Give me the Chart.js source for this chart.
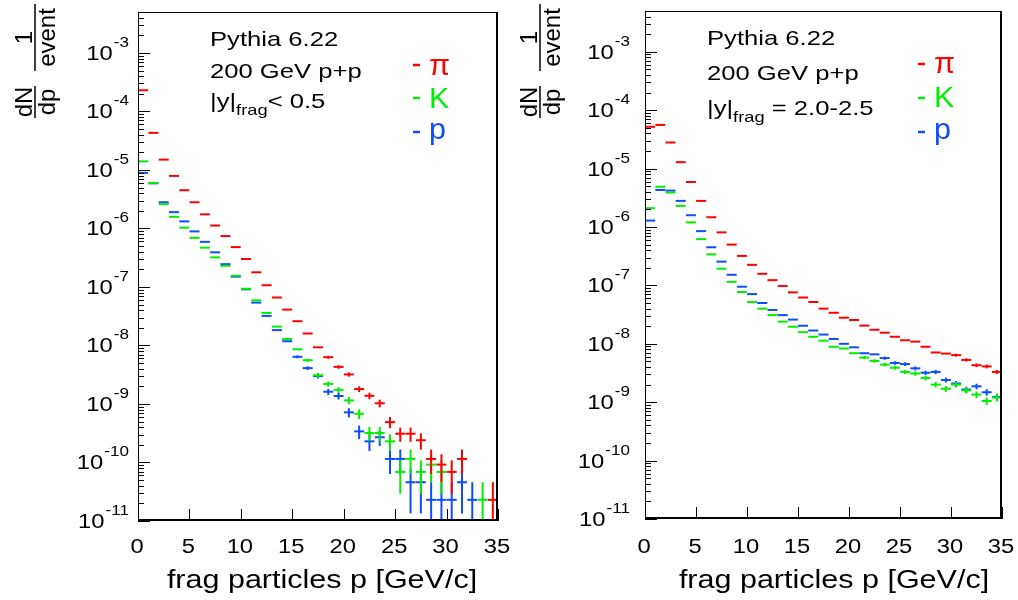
<!DOCTYPE html>
<html>
<head>
<meta charset="utf-8">
<script src="https://cdn.jsdelivr.net/npm/chart.js@4.4.1/dist/chart.umd.min.js"></script>
<style>
  html, body { margin: 0; padding: 0; background: #fff; }
  #wrap { position: relative; width: 1018px; height: 600px; overflow: hidden; }
  canvas { position: absolute; top: 0; }
  #left { left: 0; }
  #right { left: 509px; }
</style>
</head>
<body>
<div id="wrap">
  <canvas id="left" width="520" height="600" style="width:520px;height:600px"></canvas>
  <canvas id="right" width="509" height="600" style="width:509px;height:600px"></canvas>
</div>
<script>
// bin centres, 1 GeV/c bins from 0 to 35
const pCenters = [0.5, 1.5, 2.5, 3.5, 4.5, 5.5, 6.5, 7.5, 8.5, 9.5, 10.5, 11.5, 12.5, 13.5, 14.5, 15.5, 16.5,
  17.5, 18.5, 19.5, 20.5, 21.5, 22.5, 23.5, 24.5, 25.5, 26.5, 27.5, 28.5, 29.5, 30.5, 31.5, 32.5, 33.5, 34.5];

// |y|frag < 0.5  (0 = empty bin)
const piMid = [2.3e-4, 4.3e-5, 1.5e-5, 7.9e-6, 4.5e-6, 2.8e-6, 1.74e-6, 1.12e-6, 7.4e-7, 4.8e-7, 3.0e-7,
  1.78e-7, 1.07e-7, 6.6e-8, 4.1e-8, 2.6e-8, 1.6e-8, 9.3e-9, 6.3e-9, 4.3e-9, 3.2e-9, 1.8e-9, 1.38e-9, 1.03e-9,
  4.9e-10, 3.1e-10, 3.1e-10, 2.4e-10, 1.15e-10, 9.2e-11, 6.9e-11, 1.15e-10, 0, 0, 2.3e-11];
const kMid = [1.4e-5, 6.0e-6, 2.6e-6, 1.58e-6, 1.03e-6, 6.9e-7, 4.7e-7, 3.2e-7, 2.3e-7, 1.55e-7, 9.3e-8,
  5.9e-8, 3.6e-8, 2.1e-8, 1.29e-8, 8.6e-9, 5.6e-9, 3.1e-9, 2.2e-9, 1.74e-9, 1.15e-9, 6.8e-10, 3.2e-10, 3.2e-10,
  2.3e-10, 6.9e-11, 1.15e-10, 6.9e-11, 9.2e-11, 6.9e-11, 0, 0, 0, 2.3e-11, 0];
const prMid = [8.9e-6, 5.9e-6, 2.8e-6, 1.9e-6, 1.32e-6, 8.9e-7, 5.9e-7, 3.9e-7, 2.45e-7, 1.5e-7, 9.1e-8,
  5.4e-8, 3.2e-8, 1.83e-8, 1.18e-8, 6.4e-9, 4.1e-9, 3.0e-9, 1.62e-9, 1.37e-9, 7.2e-10, 3.4e-10, 2.3e-10, 2.7e-10,
  1.15e-10, 1.15e-10, 4.6e-11, 4.6e-11, 2.3e-11, 2.3e-11, 2.3e-11, 4.6e-11, 2.3e-11, 0, 0];

// |y|frag = 2.0-2.5
const piFwd = [5.2e-5, 5.6e-5, 2.8e-5, 1.29e-5, 5.9e-6, 2.8e-6, 1.47e-6, 8.1e-7, 5.0e-7, 3.2e-7, 2.25e-7,
  1.58e-7, 1.23e-7, 9.8e-8, 7.6e-8, 6.2e-8, 5.2e-8, 4.0e-8, 3.4e-8, 2.8e-8, 2.56e-8, 2.05e-8, 1.74e-8, 1.55e-8,
  1.32e-8, 1.15e-8, 1.09e-8, 8.9e-9, 7.1e-9, 6.8e-9, 6.4e-9, 5.3e-9, 4.3e-9, 4.1e-9, 3.3e-9];
const kFwd = [2.1e-6, 4.9e-6, 3.9e-6, 2.3e-6, 1.2e-6, 6.2e-7, 3.4e-7, 1.93e-7, 1.15e-7, 7.7e-8, 5.2e-8,
  4.0e-8, 3.1e-8, 2.4e-8, 1.96e-8, 1.58e-8, 1.32e-8, 1.13e-8, 8.9e-9, 8.3e-9, 6.9e-9, 5.8e-9, 5.1e-9, 4.4e-9,
  3.9e-9, 3.3e-9, 3.1e-9, 2.6e-9, 2.0e-9, 1.7e-9, 2.0e-9, 1.6e-9, 1.35e-9, 1.05e-9, 1.2e-9];
const prFwd = [1.29e-6, 4.3e-6, 4.2e-6, 2.8e-6, 1.59e-6, 8.5e-7, 4.5e-7, 2.55e-7, 1.52e-7, 9.5e-8, 7.1e-8,
  5.0e-8, 3.8e-8, 3.1e-8, 2.6e-8, 2.04e-8, 1.69e-8, 1.44e-8, 1.21e-8, 1.0e-8, 8.7e-9, 6.9e-9, 6.6e-9, 5.7e-9,
  4.7e-9, 4.5e-9, 3.8e-9, 3.2e-9, 3.3e-9, 2.4e-9, 2.09e-9, 1.65e-9, 1.87e-9, 1.48e-9, 1.23e-9];

// weight of one entry (statistical error bars = sqrt(N) * weight)
const countWeight = 2.3e-11;

const xTicks = [0, 5, 10, 15, 20, 25, 30, 35];
const yTickExps = [-3, -4, -5, -6, -7, -8, -9, -10, -11];

const RED = "#ff0000", GREEN = "#00ef00", BLUE = "#0d4cff";
const FONT = '"Liberation Sans", Arial, Helvetica, sans-serif';
const SX = 1.22; // the original text is drawn rather wide

function txt(ctx, s, x, y, size, align, color, sx) {
  ctx.save();
  ctx.translate(x, y);
  ctx.scale(sx || SX, 1);
  ctx.font = size + "px " + FONT;
  ctx.textAlign = align;
  ctx.textBaseline = "alphabetic";
  ctx.fillStyle = color || "#000";
  ctx.fillText(s, 0, 0);
  ctx.restore();
}

function textW(ctx, s, size, sx) {
  ctx.save();
  ctx.font = size + "px " + FONT;
  const w = ctx.measureText(s).width * (sx || SX);
  ctx.restore();
  return w;
}

function seg(ctx, x1, y1, x2, y2) {
  ctx.beginPath();
  ctx.moveTo(x1, y1);
  ctx.lineTo(x2, y2);
  ctx.stroke();
}

const errorBars = {
  id: "errorBars",
  afterDatasetDraw(chart, args) {
    const ds = chart.data.datasets[args.index];
    const { ctx, chartArea: a, scales: { y } } = chart;
    ctx.save();
    ctx.beginPath();
    ctx.rect(a.left, a.top, a.width, a.height);
    ctx.clip();
    ctx.strokeStyle = ds.borderColor;
    ctx.lineWidth = 2;
    args.meta.data.forEach((pt, i) => {
      const v = ds.data[i].y;
      if (!v) return;
      const e = Math.sqrt(v * countWeight);
      const top = y.getPixelForValue(v + e);
      const bot = v - e > v * 1e-6 ? y.getPixelForValue(v - e) : a.bottom + 5;
      if (bot - top < 3) return;
      seg(ctx, pt.x, top, pt.x, bot);
    });
    ctx.restore();
  }
};

const rootFrame = {
  id: "rootFrame",
  afterDraw(chart, args, o) {
    const { ctx, chartArea: a, scales: { x, y } } = chart;
    ctx.save();
    ctx.strokeStyle = "#000";
    ctx.lineWidth = 1;

    // y ticks (inside, left side)
    for (let e = -11; e <= -3; e++) {
      for (let k = 1; k <= 9; k++) {
        const v = k * Math.pow(10, e);
        if (v > y.max * 1.001) break;
        const py = Math.round(y.getPixelForValue(v)) + 0.5;
        seg(ctx, a.left, py, a.left + (k === 1 ? 12 : 6), py);
      }
    }
    // x ticks
    xTicks.forEach(t => {
      const px = Math.round(x.getPixelForValue(t)) + 0.5;
      seg(ctx, px, a.bottom, px, a.bottom - 12);
    });

    // frame
    seg(ctx, a.left + 0.5, a.top + 0.5, a.right, a.top + 0.5);
    seg(ctx, a.left + 0.5, a.top, a.left + 0.5, a.bottom);
    ctx.lineWidth = 2;
    seg(ctx, a.right - 1, a.top, a.right - 1, a.bottom);
    seg(ctx, a.left, a.bottom - 1, a.right, a.bottom - 1);

    // y tick labels 10^-n
    yTickExps.forEach(n => {
      const py = y.getPixelForValue(Math.pow(10, n));
      const ex = String(n);
      const we = textW(ctx, ex, 14);
      const wm = textW(ctx, "10", 19.5);
      txt(ctx, ex, o.labelRight - we, py - 6, 14, "left");
      txt(ctx, "10", o.labelRight - we - 1 - wm, py + 7, 19.5, "left");
    });
    // x tick labels
    xTicks.forEach(t => {
      txt(ctx, String(t), x.getPixelForValue(t) - 1, 553, 19.5, "center");
    });
    // x title
    txt(ctx, "frag particles p [GeV/c]", o.titleX, 588, 25, "center");

    // y title: dN/dp 1/event, rotated
    ctx.save();
    ctx.translate(o.yTitleX, 0);
    ctx.rotate(-Math.PI / 2);
    ctx.lineWidth = 1.5;
    seg(ctx, -118, 0, -86, 0);
    seg(ctx, -71, 0, -4, 0);
    txt(ctx, "dN", -102, -3, 24, "center", "#000", 1.0);
    txt(ctx, "dp", -102, 20, 24, "center", "#000", 1.0);
    txt(ctx, "1", -37.5, -3, 24, "center", "#000", 1.0);
    txt(ctx, "event", -37.5, 20, 24, "center", "#000", 1.0);
    ctx.restore();

    // annotation
    txt(ctx, "Pythia 6.22", o.textX, o.lines[0], 21, "left");
    txt(ctx, "200 GeV p+p", o.textX, o.lines[1], 21, "left");
    let tx = o.textX;
    txt(ctx, "|y|", tx, o.lines[2], 21, "left");
    tx += textW(ctx, "|y|", 21);
    txt(ctx, "frag", tx, o.lines[2] + 7, 15, "left");
    tx += textW(ctx, "frag", 15);
    txt(ctx, o.rapText, tx, o.lines[2], 21, "left");

    // legend
    const leg = [["\u03c0", RED, o.legY[0], o.legBase[0]], ["K", GREEN, o.legY[1], o.legBase[1]], ["p", BLUE, o.legY[2], o.legBase[2]]];
    leg.forEach(([s, c, ly, lb]) => {
      ctx.strokeStyle = c;
      ctx.lineWidth = 2.5;
      seg(ctx, o.legX, ly, o.legX + 7, ly);
      txt(ctx, s, o.legX + 16, lb, 29, "left", c, 1.05);
    });
    ctx.restore();
  }
};

function makeSet(vals, color) {
  return {
    data: vals.map((v, i) => ({ x: pCenters[i], y: v > 0 ? v : null })),
    borderColor: color,
    backgroundColor: color,
    pointStyle: "line",
    pointRadius: 5,
    pointHoverRadius: 5,
    pointBorderWidth: 2,
    borderWidth: 2,
    showLine: false
  };
}

function makePanel(id, sets, frameOpts, pad) {
  return new Chart(document.getElementById(id), {
    type: "scatter",
    data: { datasets: sets },
    options: {
      responsive: false,
      animation: false,
      events: [],
      layout: { padding: pad },
      plugins: { legend: { display: false }, tooltip: { enabled: false }, rootFrame: frameOpts },
      scales: {
        x: { type: "linear", min: 0, max: 35, display: false },
        y: { type: "logarithmic", min: 1e-11, max: 5e-3, display: false }
      }
    },
    plugins: [errorBars, rootFrame]
  });
}

makePanel("left",
  [makeSet(piMid, RED), makeSet(kMid, GREEN), makeSet(prMid, BLUE)],
  { labelRight: 129, titleX: 322, yTitleX: 35, textX: 210, lines: [46, 78, 108], rapText: "< 0.5",
    legX: 413, legY: [65, 98, 132], legBase: [75, 108, 139] },
  { left: 138, right: 22, top: 12, bottom: 79 });

makePanel("right",
  [makeSet(piFwd, RED), makeSet(kFwd, GREEN), makeSet(prFwd, BLUE)],
  { labelRight: 121, titleX: 325, yTitleX: 31, textX: 198, lines: [45, 80, 115], rapText: " = 2.0-2.5",
    legX: 409, legY: [64, 98, 132], legBase: [73, 107, 139] },
  { left: 136, right: 16, top: 11, bottom: 81 });
</script>
</body>
</html>
